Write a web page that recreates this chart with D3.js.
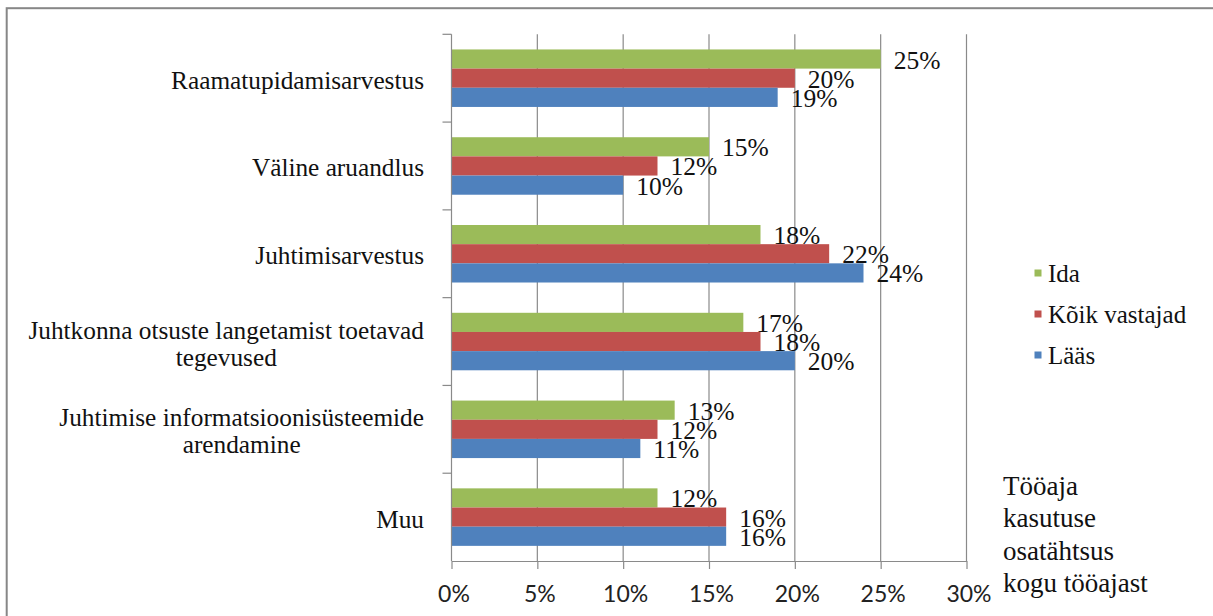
<!DOCTYPE html>
<html><head><meta charset="utf-8">
<script src="https://cdn.jsdelivr.net/npm/d3@7"></script>
<style>html,body{margin:0;padding:0;background:#fff;overflow:hidden}</style>
</head><body>
<svg id="chart" width="1213" height="616"></svg>
<script>
const categories = [
  ["Raamatupidamisarvestus"],
  ["Väline aruandlus"],
  ["Juhtimisarvestus"],
  ["Juhtkonna otsuste langetamist toetavad", "tegevused"],
  ["Juhtimise informatsioonisüsteemide", "arendamine"],
  ["Muu"]
];
const seriesNames = ["Ida", "Kõik vastajad", "Lääs"];
const ida = [25, 15, 18, 17, 13, 12];
const koik = [20, 12, 22, 18, 12, 16];
const laas = [19, 10, 24, 20, 11, 16];
const xTicks = [0, 5, 10, 15, 20, 25, 30];
const axisTitle = ["Tööaja", "kasutuse", "osatähtsus", "kogu tööajast"];
const colors = ["#9BBB59", "#C0504D", "#4F81BD"];

(function () {
const seriesVals = [ida, koik, laas];
const svg = d3.select("#chart");
const serif = "'Liberation Serif','Times New Roman',serif";

// outer border
svg.append("rect").attr("x", 6.7).attr("y", 8.2).attr("width", 1400).attr("height", 800)
  .attr("fill", "none").attr("stroke", "#878787").attr("stroke-width", 2);

const pLeft = 451.5, pRight = 966.5, pTop = 34.3, pBottom = 561;
const x = d3.scaleLinear().domain([0, 30]).range([pLeft, pRight]);
const y = d3.scaleBand().domain(d3.range(categories.length)).range([pTop, pBottom]).paddingInner(0.345).paddingOuter(0.1725);
const ySub = d3.scaleBand().domain(d3.range(3)).range([0, y.bandwidth()]);

// gridlines
svg.append("g").selectAll("line").data(xTicks.slice(1)).join("line")
  .attr("x1", d => x(d)).attr("x2", d => x(d)).attr("y1", pTop).attr("y2", pBottom)
  .attr("stroke", "#8a8a8a").attr("stroke-width", 1.2);

// bars
const gCat = svg.append("g").selectAll("g").data(categories).join("g")
  .attr("transform", (d, i) => `translate(0,${y(i)})`);
seriesVals.forEach((vals, s) => {
  gCat.append("rect")
    .attr("x", x(0))
    .attr("y", ySub(s))
    .attr("width", (d, i) => x(vals[i]) - x(0))
    .attr("height", ySub.bandwidth())
    .attr("fill", colors[s]);
});

// axes
const xAxis = d3.axisBottom(x).tickValues(xTicks).tickFormat(d => d + "%").tickSize(8).tickSizeOuter(0);
const gx = svg.append("g").attr("transform", `translate(0,${pBottom})`).call(xAxis);
gx.select(".domain").attr("stroke", "#8a8a8a").attr("stroke-width", 1.2);
gx.selectAll(".tick line").attr("stroke", "#8a8a8a").attr("stroke-width", 1.2);
gx.selectAll(".tick text").attr("font-family", "Lato, 'Open Sans', sans-serif").attr("font-size", 23)
  .attr("fill", "#222").attr("dy", null).attr("y", 32).attr("x", 2).attr("dominant-baseline", "central");

const catEdge = d3.scaleLinear().domain([0, categories.length]).range([pTop, pBottom]);
const gy = svg.append("g").attr("transform", `translate(${pLeft},0)`);
gy.append("line").attr("x1", 0).attr("x2", 0).attr("y1", pTop).attr("y2", pBottom)
  .attr("stroke", "#8a8a8a").attr("stroke-width", 1.2);
gy.selectAll("line.tk").data(d3.range(categories.length)).join("line").attr("class", "tk")
  .attr("x1", -9).attr("x2", 0).attr("y1", d => catEdge(d)).attr("y2", d => catEdge(d))
  .attr("stroke", "#8a8a8a").attr("stroke-width", 1.2);

// category labels
const labelRight = 424, lineH = 27;
categories.forEach((lines, i) => {
  const cy = y(i) + y.bandwidth() / 2 + 1.5;
  const t = svg.append("text").attr("font-family", serif).attr("font-size", 25.3).attr("fill", "#111");
  const spans = lines.map((ln, k) => t.append("tspan").text(ln)
    .attr("y", cy + (k - (lines.length - 1) / 2) * lineH).attr("dominant-baseline", "central"));
  const maxW = d3.max(spans, s => s.node().getComputedTextLength());
  spans.forEach(s => s.attr("x", labelRight - maxW / 2).attr("text-anchor", "middle"));
});

// data labels
seriesVals.forEach((vals, s) => {
  svg.append("g").selectAll("text").data(vals).join("text")
    .attr("x", d => x(d) + 13)
    .attr("y", (d, i) => y(i) + ySub(s) + ySub.bandwidth() / 2 + 1)
    .attr("dominant-baseline", "central")
    .attr("font-family", serif).attr("font-size", 25.5).attr("fill", "#111")
    .text(d => d + "%");
});

// legend
const lg = svg.append("g");
seriesNames.forEach((n, s) => {
  const cy = 273 + s * 41;
  lg.append("rect").attr("x", 1034.5).attr("y", cy - 3.5).attr("width", 7).attr("height", 7).attr("fill", colors[s]);
  lg.append("text").attr("x", 1048).attr("y", cy).attr("dominant-baseline", "central")
    .attr("font-family", serif).attr("font-size", 25).attr("fill", "#111").text(n);
});

// axis title
const at = svg.append("text").attr("font-family", serif).attr("font-size", 27).attr("fill", "#111");
axisTitle.forEach((ln, k) => at.append("tspan").attr("x", 1003).attr("y", 495 + k * 32.3).text(ln));
})();
</script>
</body></html>
